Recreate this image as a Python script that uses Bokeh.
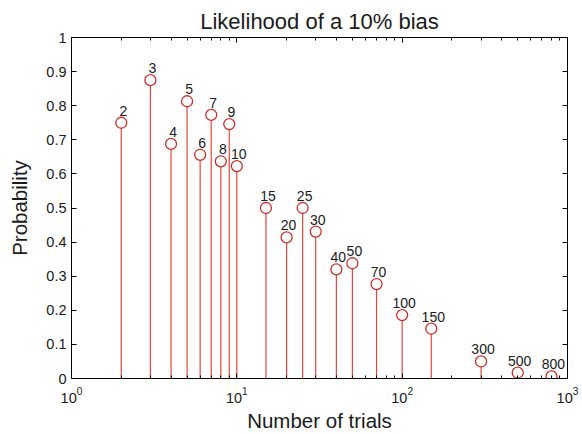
from bokeh.plotting import figure
from bokeh.models import LogAxis, LinearAxis, ColumnDataSource, FixedTicker, Range1d
from bokeh.embed import file_html
from bokeh.resources import INLINE
from bokeh.core.properties import value

# ---- data ----
trials = [2, 3, 4, 5, 6, 7, 8, 9, 10, 15, 20, 25, 30, 40, 50, 70, 100, 150, 300, 500, 800]
probability = [0.750, 0.875, 0.688, 0.813, 0.656, 0.773, 0.637, 0.746, 0.623,
               0.500, 0.414, 0.500, 0.431, 0.320, 0.338, 0.277, 0.186, 0.146,
               0.050, 0.017, 0.006]
point_labels = ["2", "3", "4", "5", "6", "7", "8", "9", "10", "15", "20", "25",
                "30", "40", "50", "70", "100", "150", "300", "500", "800"]
baseline = [0] * len(trials)

y_ticks = [0, 0.1, 0.2, 0.3, 0.4, 0.5, 0.6, 0.7, 0.8, 0.9, 1]
y_tick_labels = ["0", "0.1", "0.2", "0.3", "0.4", "0.5", "0.6", "0.7", "0.8", "0.9", "1"]
x_ticks = [1, 10, 100, 1000]
x_minor_ticks = [2, 3, 4, 5, 6, 7, 8, 9, 20, 30, 40, 50, 60, 70, 80, 90,
                 200, 300, 400, 500, 600, 700, 800, 900]

title_text = "Likelihood of a 10% bias"
x_label = "Number of trials"
y_label = "Probability"

FONT = "Liberation Sans"
TXT = "#1a1a1a"
STEM = "#e8453c"
MARK = "#d0302c"

src = ColumnDataSource(dict(x=trials, y=probability, label=point_labels, y0=baseline))

p = figure(width=582, height=434, x_axis_type="log",
           x_range=Range1d(1, 1000), y_range=Range1d(0, 1),
           output_backend="svg", toolbar_location=None,
           min_border_left=71, min_border_right=15,
           min_border_top=37, min_border_bottom=55)

bottom = p.xaxis[0]
left = p.yaxis[0]

p.title.text = title_text
p.title.align = "center"
p.title.text_font = FONT
p.title.text_font_size = "22px"
p.title.text_font_style = "normal"
p.title.text_color = TXT
p.title.standoff = 7

p.grid.visible = False
p.outline_line_color = "black"
p.outline_line_width = 1
p.background_fill_color = "white"
p.border_fill_color = "white"

xt = FixedTicker(ticks=x_ticks, minor_ticks=x_minor_ticks)
yt = FixedTicker(ticks=y_ticks, minor_ticks=[])

bottom.ticker = xt
left.ticker = yt
left.major_label_overrides = {t: s for t, s in zip(y_ticks, y_tick_labels)}
bottom.axis_label = x_label
left.axis_label = y_label

top = LogAxis(ticker=xt)
right = LinearAxis(ticker=yt)
for ax in [top, right]:
    ax.major_label_text_color = None
    ax.major_label_text_font_size = "1px"
    ax.major_label_standoff = 0
p.add_layout(top, "above")
p.add_layout(right, "right")

for ax in [bottom, left, top, right]:
    ax.major_tick_in = 5
    ax.major_tick_out = 0
    ax.minor_tick_in = 3
    ax.minor_tick_out = 0
    ax.axis_line_color = "black"
    ax.major_tick_line_color = "black"
    ax.minor_tick_line_color = "black"
    ax.major_label_text_font = FONT
    ax.axis_label_text_font = FONT
    ax.axis_label_text_font_style = "normal"
    ax.axis_label_text_color = TXT

for ax in [bottom, left]:
    ax.major_label_text_color = TXT
    ax.major_label_text_font_size = "14.5px"
    ax.axis_label_text_font_size = "20.5px"

left.major_label_standoff = 5
left.axis_label_standoff = 12
bottom.major_label_standoff = 8
bottom.axis_label_standoff = 3

p.segment(x0="x", y0="y0", x1="x", y1="y", source=src, line_color=STEM, line_width=1.2)
p.scatter(x="x", y="y", source=src, marker="circle", size=11,
          fill_color="white", line_color=MARK, line_width=1.3)
p.text(x="x", y="y", text="label", source=src, x_offset=2, y_offset=-7,
       text_align="center", text_baseline="bottom",
       text_font=value(FONT), text_font_size="14px", text_color=TXT)

open("out.html", "w").write(file_html(p, INLINE))
